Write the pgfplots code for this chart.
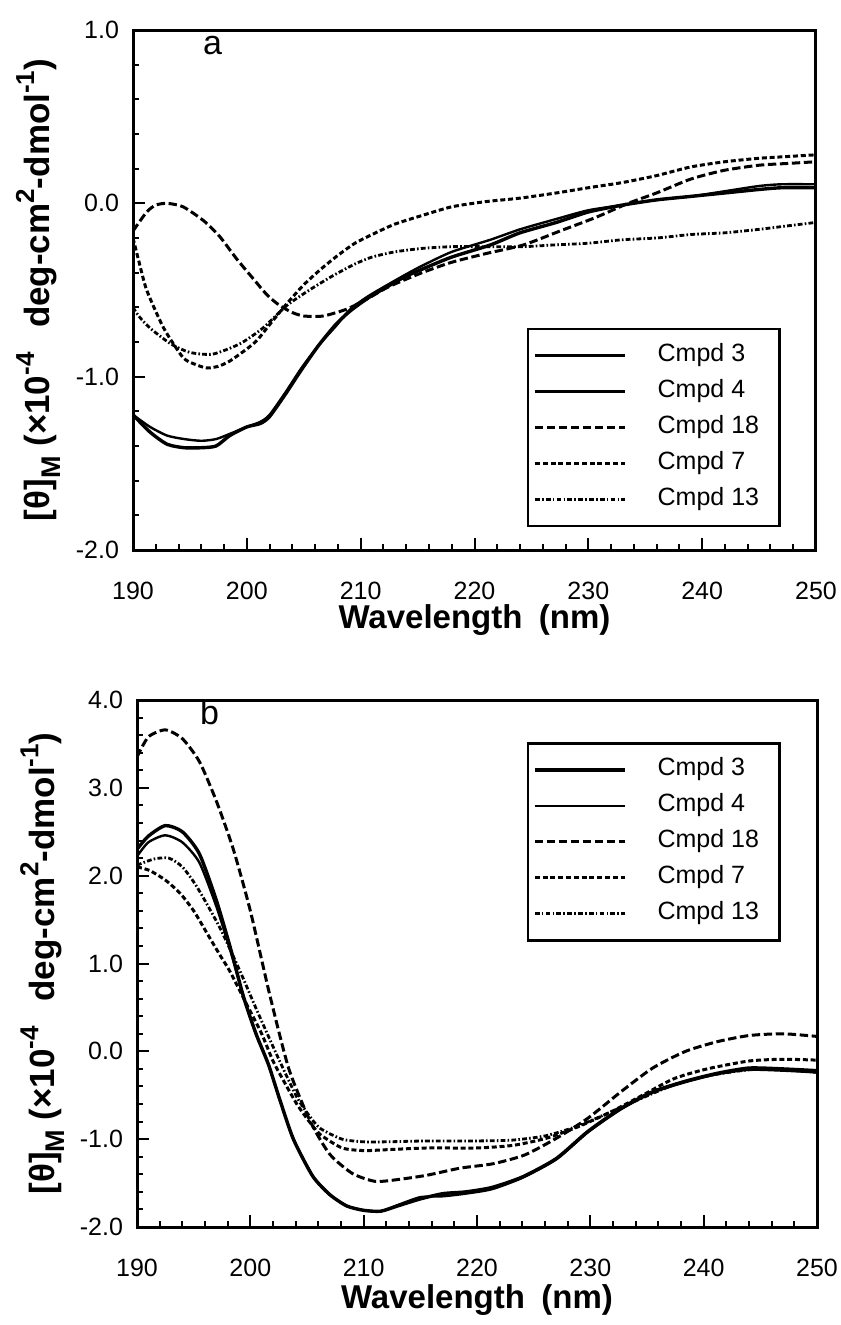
\documentclass[border=0pt]{standalone}
\usepackage{fontspec}
\setmainfont{Liberation Sans}
\usepackage{pgfplots}
\pgfplotsset{compat=1.18}

% line styles of the five compounds
\tikzset{
  c3/.style={black, line width=1.7pt},
  c4/.style={black, line width=1.2pt},
  c18/.style={black, line width=1.5pt, dash pattern=on 4.2pt off 1.8pt},
  c7/.style={black, line width=1.5pt, dash pattern=on 2.5pt off 1.4pt},
  c13/.style={black, line width=1.4pt, dash pattern=on 2.4pt off 1.1pt on 0.8pt off 1.1pt},
}
\newcommand\sups[1]{\raisebox{0.45em}{\fontsize{13}{14}\selectfont #1}}
\newcommand\subs[1]{\raisebox{-0.3em}{\fontsize{13.5}{14}\selectfont #1}}
\newcommand\ylab{[θ]\subs{M} (×10\sups{-4}\hspace{0.7em}deg-cm\sups{2}-dmol\sups{-1})}
\newcommand\ent[1]{\makebox[56pt][l]{#1}}

\pgfplotsset{
  cdaxis/.style={
    scale only axis,
    anchor=south west,
    xmin=190, xmax=250,
    xtick={190,200,...,250},
    minor x tick num=4,
    minor y tick num=4,
    tick pos=left,
    tick align=inside,
    major tick length=6pt,
    minor tick length=3pt,
    axis line style={line width=1.5pt},
    every tick/.style={black, line width=1pt},
    tick label style={font=\fontsize{12.5}{14}\selectfont, /pgf/number format/assume math mode=true},
    xticklabel style={yshift=-12.5pt},
    yticklabel style={xshift=-3.5pt, /pgf/number format/.cd, fixed, fixed zerofill, precision=1},
    xlabel style={font=\bfseries\fontsize{16.5}{18}\selectfont},
    ylabel style={font=\bfseries\fontsize{17.5}{18}\selectfont,
      at={(axis description cs:-0.139,0.5)}, anchor=center},
    xlabel={Wavelength\hspace{0.5em}(nm)},
    ylabel={\ylab},
    legend cell align=left,
    legend image code/.code={\draw[##1] (0pt,0pt) -- (45pt,0pt);},
    legend style={draw=black, line width=1.2pt, fill=white,
      font=\fontsize{12.5}{14}\selectfont,
      inner xsep=2.5pt, inner ysep=4.25pt, row sep=0pt,
      /tikz/every odd column/.append style={column sep=13pt},
      nodes={inner xsep=2.5pt, inner ysep=2.75pt, text height=9pt, text depth=3.5pt}},
  },
}

\begin{document}
\begin{tikzpicture}
\path[use as bounding box] (0pt,-662.5pt) rectangle (420pt,0pt);

% panel a
\begin{axis}[cdaxis,
  at={(66.5pt,-275pt)},
  width=341.5pt, height=260pt,
  ymin=-2, ymax=1, ytick={-2,-1,0,1},
  xlabel style={at={(axis description cs:0.5,-0.135)}, anchor=center},
  legend style={at={(0.577,0.427)}, anchor=north west},
]
\addplot[c3, smooth, tension=0.4] coordinates {
(190,-1.22) (191.5,-1.32) (193,-1.39) (194.5,-1.41) (196,-1.41) (197.3,-1.40)
(198.5,-1.34) (200,-1.29) (201.2,-1.27) (202,-1.23) (203.4,-1.10) (204.8,-0.96)
(206.3,-0.82) (207.8,-0.70) (209.1,-0.62) (210.8,-0.54) (213.7,-0.43) (215.4,-0.38)
(218,-0.31) (221.4,-0.24) (224,-0.17) (227.2,-0.11) (230,-0.05) (233,-0.01)
(236,0.02) (239,0.04) (242,0.06) (245,0.08) (247,0.09) (250,0.09)};
\addlegendentry{\ent{Cmpd 3}}
\addplot[c4, smooth, tension=0.4] coordinates {
(190,-1.22) (191.5,-1.29) (193,-1.34) (194.5,-1.36) (196,-1.37) (197.3,-1.36)
(198.5,-1.33) (200,-1.29) (201.2,-1.26) (202,-1.22) (203.4,-1.09) (204.8,-0.95)
(206.3,-0.82) (207.8,-0.71) (209.1,-0.61) (210.8,-0.53) (213.7,-0.42) (215.4,-0.36)
(218,-0.28) (221.4,-0.21) (224,-0.15) (227.2,-0.09) (230,-0.04) (233,-0.01)
(236,0.02) (239,0.04) (242,0.07) (245,0.10) (247,0.11) (250,0.11)};
\addlegendentry{\ent{Cmpd 4}}
\addplot[c18, smooth, tension=0.4] coordinates {
(190,-0.16) (191.2,-0.05) (192,-0.01) (193,0.0) (194.4,-0.02) (196.2,-0.10)
(197.6,-0.19) (199.1,-0.32) (200.5,-0.43) (201.8,-0.53) (202.9,-0.59) (204,-0.63)
(205,-0.65) (206.7,-0.65) (208.8,-0.61) (210.6,-0.55) (212.5,-0.48) (215.4,-0.40)
(218,-0.34) (221,-0.29) (224.3,-0.24) (227.5,-0.16) (230.7,-0.08) (233.5,0.0)
(236,0.06) (239,0.14) (241.9,0.19) (245,0.22) (247.5,0.23) (250,0.24)};
\addlegendentry{\ent{Cmpd 18}}
\addplot[c7, smooth, tension=0.4] coordinates {
(190,-0.20) (190.5,-0.33) (191.2,-0.50) (192.7,-0.72) (194.4,-0.89) (195.5,-0.93)
(196.5,-0.95) (197.5,-0.94) (198.5,-0.91) (200,-0.84) (200.9,-0.79) (202,-0.70)
(203.5,-0.58) (205,-0.47) (206.5,-0.38) (208,-0.30) (209.5,-0.23) (211,-0.18)
(213,-0.12) (215.4,-0.07) (218,-0.02) (221,0.01) (224,0.03) (227.2,0.06)
(230,0.09) (233,0.12) (236,0.16) (239,0.21) (242,0.24) (245,0.26) (247.5,0.27) (250,0.28)};
\addlegendentry{\ent{Cmpd 7}}
\addplot[c13, smooth, tension=0.4] coordinates {
(190,-0.60) (190.5,-0.65) (191.5,-0.72) (193.3,-0.81) (195,-0.86) (197,-0.87)
(199.4,-0.81) (201.4,-0.72) (203.5,-0.59) (205.5,-0.50) (207.5,-0.42) (209.5,-0.35)
(211,-0.31) (213,-0.28) (215.4,-0.26) (218,-0.25) (221,-0.25) (224.3,-0.25)
(227,-0.24) (230,-0.23) (233,-0.21) (236,-0.20) (239,-0.18) (242,-0.17)
(245,-0.15) (247.5,-0.13) (250,-0.11)};
\addlegendentry{\ent{Cmpd 13}}
\node[font=\fontsize{17}{20}\selectfont] at (axis cs:197,0.913) {a};
\end{axis}

% panel b
\begin{axis}[cdaxis,
  at={(68.5pt,-613.5pt)},
  width=340pt, height=263.5pt,
  ymin=-2, ymax=4, ytick={-2,-1,...,4},
  xlabel style={at={(axis description cs:0.5,-0.1385)}, anchor=center},
  legend style={at={(0.5735,0.920)}, anchor=north west},
]
\addplot[c3, smooth, tension=0.4] coordinates {
(190,2.30) (191,2.45) (192.5,2.57) (194,2.50) (195.5,2.25) (197,1.72)
(198.3,1.15) (199.4,0.62) (200.5,0.20) (201.6,-0.15) (202.6,-0.55) (203.8,-1.00)
(205.5,-1.42) (207,-1.63) (208.5,-1.76) (210,-1.81) (211.5,-1.82) (213,-1.76)
(215,-1.68) (217,-1.62) (219,-1.60) (221.3,-1.55) (224,-1.43) (227,-1.22)
(229.8,-0.91) (232.7,-0.65) (235.5,-0.46) (238.4,-0.34) (241.2,-0.25) (244,-0.19)
(247,-0.20) (250,-0.22)};
\addlegendentry{\ent{Cmpd 3}}
\addplot[c4, smooth, tension=0.4] coordinates {
(190,2.22) (191,2.38) (192.5,2.46) (194,2.38) (195.5,2.15) (197,1.65)
(198.3,1.12) (199.4,0.62) (200.5,0.20) (201.6,-0.15) (202.6,-0.55) (203.8,-1.00)
(205.5,-1.42) (207,-1.63) (208.5,-1.76) (210,-1.81) (211.5,-1.82) (213,-1.75)
(215,-1.66) (217,-1.65) (219,-1.62) (221.3,-1.57) (224,-1.44) (227,-1.23)
(229.8,-0.92) (232.7,-0.66) (235.5,-0.47) (238.4,-0.35) (241.2,-0.26) (244,-0.21)
(247,-0.22) (250,-0.24)};
\addlegendentry{\ent{Cmpd 4}}
\addplot[c18, smooth, tension=0.4] coordinates {
(190,3.35) (191,3.58) (192.5,3.66) (194,3.56) (195.5,3.30) (197,2.85)
(198.5,2.30) (200,1.60) (201.7,0.65) (203.4,-0.20) (205.3,-0.80) (207,-1.17)
(209,-1.39) (211,-1.48) (213,-1.46) (215.6,-1.41) (218.5,-1.33) (221.4,-1.28)
(224.2,-1.18) (227,-0.99) (229.8,-0.76) (232.7,-0.46) (235.5,-0.19) (238.4,0.0)
(241.2,0.11) (244,0.18) (247,0.20) (250,0.17)};
\addlegendentry{\ent{Cmpd 18}}
\addplot[c7, smooth, tension=0.4] coordinates {
(190,2.10) (191.1,2.06) (192.5,1.95) (193.8,1.80) (195,1.60) (196.2,1.34)
(197.3,1.10) (198.2,0.91) (199.7,0.53) (201,0.20) (202,-0.11) (203,-0.35)
(204.1,-0.60) (205.2,-0.80) (206.2,-0.95) (208.1,-1.10) (210,-1.13) (212,-1.12)
(215.6,-1.10) (220,-1.10) (223.2,-1.07) (226.1,-0.99) (228.9,-0.86) (231.8,-0.69)
(234.6,-0.50) (237.4,-0.31) (240.3,-0.20) (244,-0.11) (247,-0.09) (250,-0.10)};
\addlegendentry{\ent{Cmpd 7}}
\addplot[c13, smooth, tension=0.4] coordinates {
(190,2.12) (191.5,2.19) (192.8,2.20) (194,2.10) (195.3,1.87) (197.3,1.41)
(199.1,0.91) (200.6,0.46) (202.3,-0.03) (204.1,-0.52) (205.3,-0.75) (206.2,-0.88)
(208.1,-1.00) (210,-1.03) (212,-1.03) (215.6,-1.02) (220,-1.02) (223.2,-1.01)
(226.1,-0.96) (228.9,-0.85) (231.8,-0.69) (234.6,-0.53) (237.4,-0.38) (240.3,-0.28)
(244,-0.21) (247,-0.21) (250,-0.24)};
\addlegendentry{\ent{Cmpd 13}}
\node[font=\fontsize{17}{20}\selectfont] at (axis cs:196.4,3.86) {b};
\end{axis}
\end{tikzpicture}
\end{document}
